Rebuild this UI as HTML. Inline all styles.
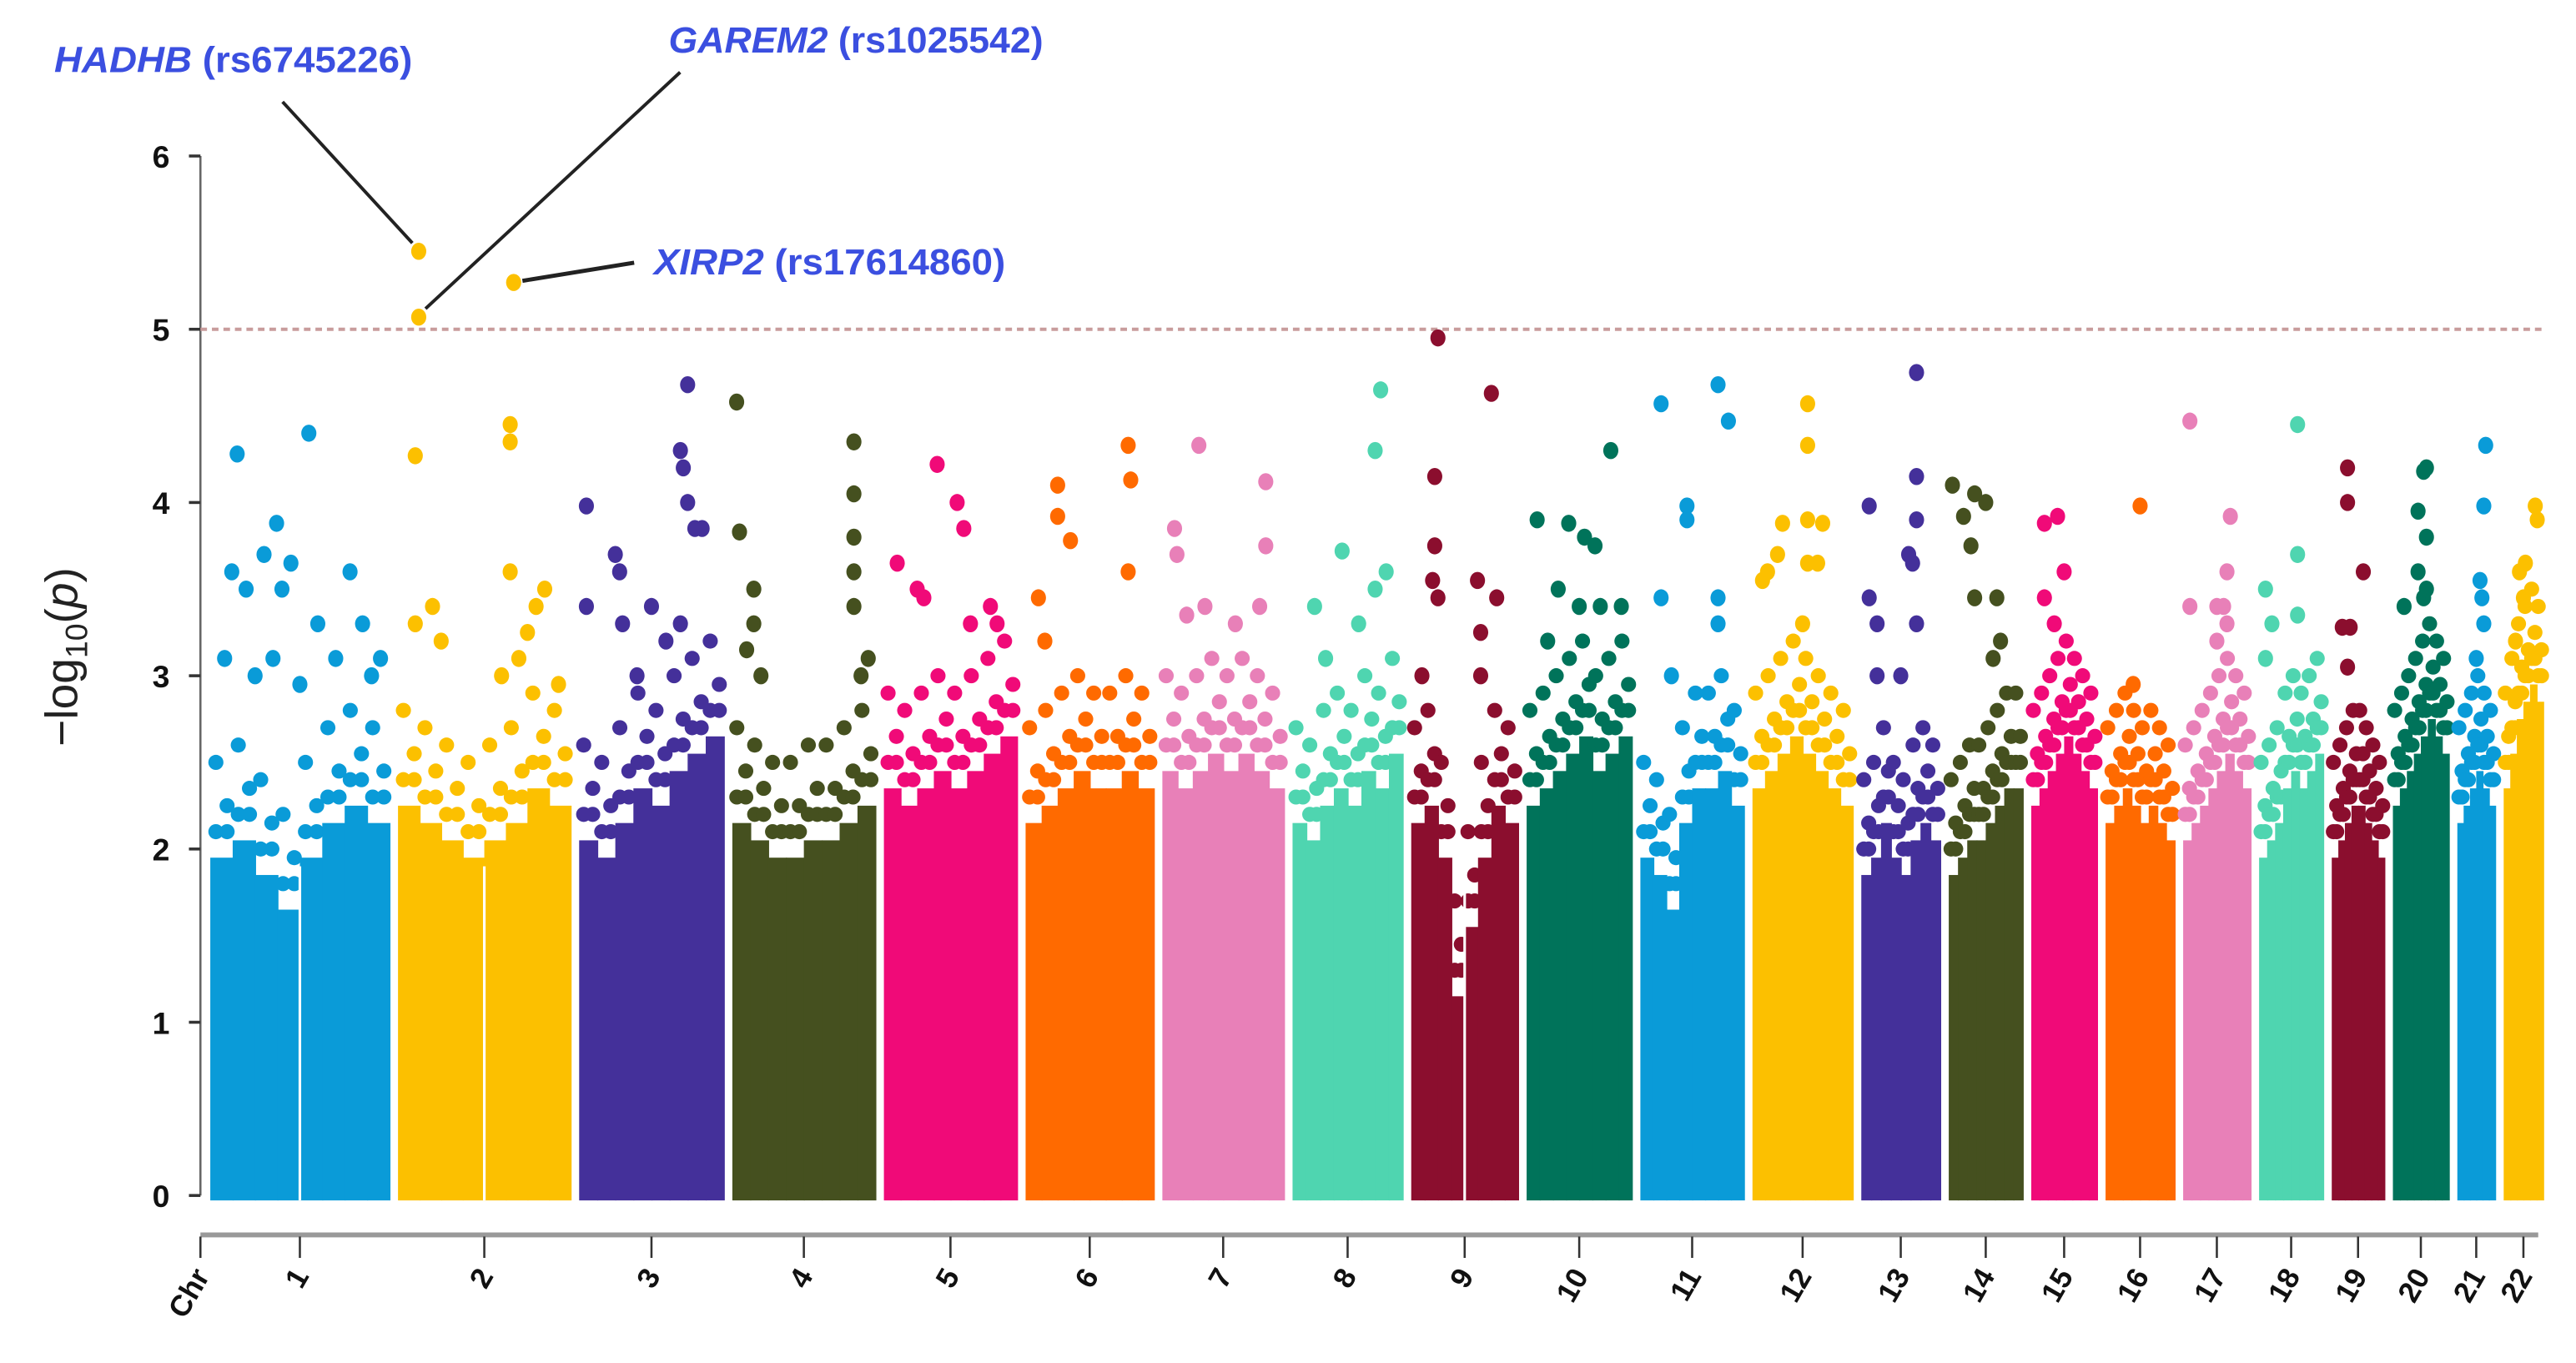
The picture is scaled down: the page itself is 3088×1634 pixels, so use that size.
<!DOCTYPE html>
<html><head><meta charset="utf-8"><style>
html,body{margin:0;padding:0;background:#fff;width:3088px;height:1634px;overflow:hidden}
svg{display:block}
text{font-family:"Liberation Sans",sans-serif}
</style></head><body>
<svg id="chart" width="3088" height="1634" viewBox="0 0 1568 830" preserveAspectRatio="none" xmlns="http://www.w3.org/2000/svg">
<g id="axes"></g>
<g id="marks"></g>
<g id="annot">
  <line x1="172" y1="62" x2="251" y2="148" stroke="#222" stroke-width="2"/>
  <line x1="414" y1="44" x2="259" y2="188" stroke="#222" stroke-width="2"/>
  <line x1="318" y1="171" x2="386" y2="160" stroke="#222" stroke-width="2.5"/>
  <text x="33" y="44" font-size="22" font-weight="bold" fill="#3b4fe0" textLength="218" lengthAdjust="spacingAndGlyphs"><tspan font-style="italic">HADHB</tspan> (rs6745226)</text>
  <text x="407" y="32" font-size="22" font-weight="bold" fill="#3b4fe0" textLength="228" lengthAdjust="spacingAndGlyphs"><tspan font-style="italic">GAREM2</tspan> (rs1025542)</text>
  <text x="398" y="167" font-size="22" font-weight="bold" fill="#3b4fe0" textLength="214" lengthAdjust="spacingAndGlyphs"><tspan font-style="italic">XIRP2</tspan> (rs17614860)</text>
</g>
</svg>
<script>
const chrNames = ["1","2","3","4","5","6","7","8","9","10","11","12","13","14","15","16","17","18","19","20","21","22"];
const chrLengths = [109,105,88,87,81,78,74,67,65,64,63,61,48,45,40,42,41,39,32,34,23,24];
const chrColors = ["#0a9bd8","#fcc000","#44309a","#45501f","#f00a78","#ff6a00","#e880b8","#4fd5b0","#8b0e2e","#00735a","#0a9bd8","#fcc000","#44309a","#45501f","#f00a78","#ff6a00","#e880b8","#4fd5b0","#8b0e2e","#00735a","#0a9bd8","#fcc000"];
const centromereChrs = ["1","2","9"];
const yTicks = [0,1,2,3,4,5,6];
const threshold = 5;
const envelopes = [
 [2.6,2.7,2.5,2.3,2.6,2.8,2.9,2.8],[2.9,2.8,2.7,2.6,2.7,2.8,3.0,2.9],[2.7,2.6,2.8,3.0,2.9,3.1,3.2,3.3],
 [2.8,2.7,2.6,2.6,2.7,2.7,2.8,2.9],[3.0,2.9,3.0,3.1,3.0,3.1,3.2,3.3],[2.8,2.9,3.0,3.1,3.0,3.0,3.1,3.0],
 [3.1,3.0,3.1,3.2,3.1,3.2,3.1,3.0],[2.8,2.7,2.9,3.0,2.9,3.1,3.0,3.2],[2.8,2.9,2.6,1.8,2.2,2.6,2.9,2.8],
 [2.9,3.0,3.1,3.2,3.3,3.1,3.2,3.3],[2.6,2.5,2.3,2.8,3.0,3.0,3.1,2.9],[3.0,3.1,3.2,3.3,3.2,3.1,3.0,2.9],
 [2.5,2.6,2.8,2.6,2.5,2.7,2.8,2.7],[2.5,2.6,2.7,2.7,2.8,2.9,3.0,3.0],[2.9,3.0,3.1,3.2,3.3,3.2,3.1,3.0],
 [2.8,2.9,3.0,2.9,2.8,2.9,2.8,2.7],[2.7,2.8,2.9,3.0,3.1,3.2,3.1,3.0],[2.6,2.7,2.8,3.0,3.1,3.0,3.1,3.2],
 [2.6,2.7,2.8,2.9,2.9,2.8,2.7,2.6],[2.9,3.0,3.1,3.2,3.3,3.4,3.3,3.2],[2.8,2.9,3.0,3.1,3.0,2.9],[3.0,3.2,3.4,3.5,3.6,3.5]
];
const hitPoints = [
 [[0.15,4.28],[0.12,3.6],[0.2,3.5],[0.3,3.7],[0.37,3.88],[0.4,3.5],[0.45,3.65],[0.35,3.1],[0.08,3.1],[0.25,3.0],[0.55,4.4],[0.6,3.3],[0.7,3.1],[0.78,3.6],[0.85,3.3],[0.95,3.1],[0.5,2.95],[0.9,3.0]],
 [[0.12,5.45],[0.12,5.07],[0.67,5.27],[0.1,4.27],[0.65,4.45],[0.65,4.35],[0.65,3.6],[0.1,3.3],[0.2,3.4],[0.25,3.2],[0.7,3.1],[0.75,3.25],[0.8,3.4],[0.85,3.5],[0.6,3.0],[0.93,2.95]],
 [[0.05,3.98],[0.75,4.68],[0.7,4.3],[0.72,4.2],[0.75,4.0],[0.8,3.85],[0.85,3.85],[0.25,3.7],[0.28,3.6],[0.05,3.4],[0.3,3.3],[0.5,3.4],[0.6,3.2],[0.7,3.3],[0.4,3.0]],
 [[0.03,4.58],[0.85,4.35],[0.85,4.05],[0.85,3.8],[0.85,3.6],[0.85,3.4],[0.05,3.83],[0.15,3.5],[0.15,3.3],[0.1,3.15],[0.9,3.0],[0.95,3.1],[0.2,3.0]],
 [[0.4,4.22],[0.55,4.0],[0.6,3.85],[0.1,3.65],[0.25,3.5],[0.3,3.45],[0.8,3.4],[0.85,3.3],[0.65,3.3]],
 [[0.25,4.1],[0.25,3.92],[0.35,3.78],[0.8,4.33],[0.82,4.13],[0.8,3.6],[0.1,3.45],[0.15,3.2]],
 [[0.3,4.33],[0.1,3.85],[0.12,3.7],[0.85,4.12],[0.85,3.75],[0.8,3.4],[0.2,3.35],[0.35,3.4],[0.6,3.3]],
 [[0.8,4.65],[0.75,4.3],[0.45,3.72],[0.75,3.5],[0.85,3.6],[0.2,3.4],[0.3,3.1],[0.6,3.3]],
 [[0.25,4.95],[0.22,4.15],[0.22,3.75],[0.2,3.55],[0.25,3.45],[0.75,4.63],[0.62,3.55],[0.8,3.45],[0.65,3.25],[0.65,3.0],[0.1,3.0]],
 [[0.8,4.3],[0.1,3.9],[0.4,3.88],[0.55,3.8],[0.65,3.75],[0.3,3.5],[0.5,3.4],[0.7,3.4],[0.9,3.4],[0.2,3.2]],
 [[0.2,4.57],[0.75,4.68],[0.85,4.47],[0.45,3.98],[0.45,3.9],[0.2,3.45],[0.75,3.45],[0.75,3.3],[0.3,3.0]],
 [[0.55,4.57],[0.55,4.33],[0.3,3.88],[0.55,3.9],[0.7,3.88],[0.15,3.6],[0.25,3.7],[0.55,3.65],[0.65,3.65],[0.5,3.3],[0.1,3.55]],
 [[0.7,4.75],[0.7,4.15],[0.7,3.9],[0.1,3.98],[0.6,3.7],[0.65,3.65],[0.1,3.45],[0.2,3.3],[0.7,3.3],[0.5,3.0],[0.2,3.0]],
 [[0.05,4.1],[0.35,4.05],[0.2,3.92],[0.5,4.0],[0.3,3.75],[0.35,3.45],[0.65,3.45],[0.6,3.1],[0.7,3.2]],
 [[0.2,3.88],[0.4,3.92],[0.5,3.6],[0.2,3.45],[0.35,3.3]],
 [[0.5,3.98],[0.4,2.95]],
 [[0.1,4.47],[0.7,3.92],[0.65,3.6],[0.5,3.4],[0.6,3.4],[0.65,3.3],[0.1,3.4],[0.5,3.2]],
 [[0.6,4.45],[0.6,3.7],[0.1,3.5],[0.2,3.3],[0.6,3.35],[0.1,3.1]],
 [[0.3,4.2],[0.3,4.0],[0.6,3.6],[0.2,3.28],[0.35,3.28],[0.3,3.05]],
 [[0.55,4.18],[0.6,4.2],[0.45,3.95],[0.6,3.8],[0.45,3.6],[0.55,3.45],[0.6,3.5],[0.2,3.4]],
 [[0.75,4.33],[0.7,3.98],[0.6,3.55],[0.65,3.45],[0.7,3.3],[0.5,3.1]],
 [[0.8,3.98],[0.85,3.9],[0.4,3.6],[0.55,3.65],[0.5,3.45],[0.3,3.2]]
];

const NS = "http://www.w3.org/2000/svg";
const plotL = 122, plotR = 1548, dataL = 128, dataR = 1548, y0px = 728, y6px = 95;
const gapUnits = 5.2;
const totalUnits = chrLengths.reduce((a,b)=>a+b,0) + gapUnits*(chrLengths.length-1);
const xScale = u => dataL + u/totalUnits*(dataR-dataL);
const yScale = v => y0px - v*(y0px-y6px)/6;
const starts = []; let acc = 0;
chrLengths.forEach(l => { starts.push(acc); acc += l + gapUnits; });
function mk(tag, attrs, parent){ const e=document.createElementNS(NS,tag); for(const k in attrs) e.setAttribute(k,attrs[k]); parent.appendChild(e); return e; }
const axes = document.getElementById('axes'), marks = document.getElementById('marks');

let e = mk('line',{x1:plotL,y1:yScale(6),x2:plotL,y2:yScale(0),stroke:'#666','stroke-width':1.3},axes);
 
yTicks.forEach(t => {
  const tl = mk('line',{x1:plotL-7,y1:yScale(t),x2:plotL,y2:yScale(t),stroke:'#333','stroke-width':1.8},axes);
   
  const tx = mk('text',{x:plotL-24,y:yScale(t)+7,'font-size':19,'font-weight':'bold','text-anchor':'middle',fill:'#111'},axes);
  tx.textContent = t;
   
});
const yt = mk('text',{x:0,y:0,'font-size':28,'text-anchor':'middle',fill:'#222',transform:'translate(47,400) rotate(-90)'},axes);
yt.innerHTML = '−log<tspan font-size="19" dy="6">10</tspan><tspan dy="-6">(</tspan><tspan font-style="italic">p</tspan>)';
 

e = mk('line',{x1:plotL,y1:yScale(threshold),x2:plotR,y2:yScale(threshold),stroke:'#c89c9c','stroke-width':2,'stroke-dasharray':'4 3'},axes);
 

e = mk('line',{x1:plotL,y1:752,x2:1545,y2:752,stroke:'#999','stroke-width':3},axes);
 
function xTick(x,label,key){
  const tl = mk('line',{x1:x,y1:753,x2:x,y2:766,stroke:'#333','stroke-width':1.3},axes);
   
  const tx = mk('text',{x:0,y:0,'font-size':18,'font-weight':'bold','text-anchor':'end',fill:'#111',transform:`translate(${x+6},${777}) rotate(-60)`},axes);
  tx.textContent = label;
   
}
xTick(plotL,'Chr','chr');

chrLengths.forEach((len,i) => {
  const g = mk('g',{fill:chrColors[i]},marks);
   
  const x1 = xScale(starts[i]), x2 = xScale(starts[i]+len);
  const env = envelopes[i], n = env.length, w = (x2-x1)/n;
  env.forEach((v,j) => {
    const sx = x1 + j*w, top = yScale(v-0.65);
    const r = mk('rect',{x:sx,y:top,width:w+0.6,height:yScale(0)-top+3},g);
     
    const cnt = Math.max(2,Math.round(w/7));
    for(let k=0;k<cnt;k++){
      const cx = sx + (k+0.5)*w/cnt;
      const c = mk('circle',{cx:cx,cy:yScale(v-(k%2?0.35:0.1)),r:4.6},g);
       
      const c2 = mk('circle',{cx:cx,cy:yScale(v-0.5),r:4.6},g);
       
    }
  });
  if (centromereChrs.includes(chrNames[i])) {
    const cx = (x1+x2)/2;
    const cl = mk('rect',{x:cx-0.8,y:yScale(1.9),width:1.6,height:yScale(0)-yScale(1.9)+3,fill:'#fff'},g);
     
  }
  hitPoints[i].forEach(p => {
    const c = mk('ellipse',{cx:x1+p[0]*(x2-x1),cy:yScale(p[1]),rx:4.6,ry:5.2},g);
     
  });
  xTick((x1+x2)/2, chrNames[i], chrNames[i]);
});
</script>
</body></html>
